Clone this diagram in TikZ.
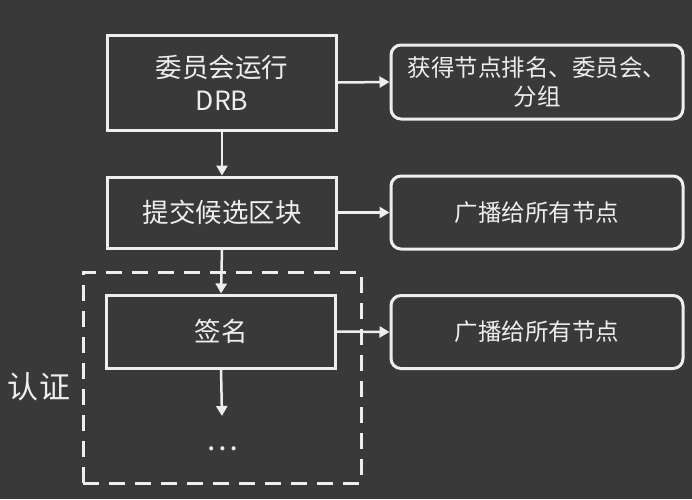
\documentclass[tikz,border=0pt]{standalone}
\usepackage{fontspec}
\setmainfont{Noto Sans CJK SC}
\usetikzlibrary{arrows.meta}
\definecolor{bg}{HTML}{393939}
\definecolor{fg}{HTML}{EEEEEE}
\begin{document}
\begin{tikzpicture}[x=1pt,y=-1pt,
  stepbox/.style={draw=fg, line width=3pt, text=fg, align=center, minimum width=229pt, font=\fontsize{26.5}{33}\selectfont, inner sep=0pt},
  outbox/.style={draw=fg, line width=3pt, rounded corners=10pt, text=fg, align=center, minimum width=292pt, minimum height=73pt, font=\fontsize{23.5}{29}\selectfont, inner sep=0pt},
  conn/.style={draw=fg, line width=2.5pt, -{Triangle[length=10pt,width=11pt]}},
  groupbox/.style={draw=fg, line width=3pt, dash pattern=on 16pt off 10pt, minimum width=278pt, minimum height=211pt, inner sep=0pt}]
\fill[bg] (0,0) rectangle (692,499);
\useasboundingbox (0,0) rectangle (692,499);
\node[groupbox] (grp) at (222,377.5) {};
\node[text=fg, font=\fontsize{31}{33}\selectfont] (auth) at (39,387) {认证};
\node[stepbox, minimum height=95pt] (s1) at (222,82.5) {委员会运行\\DRB};
\node[stepbox, minimum height=71pt] (s2) at (222,212.5) {提交候选区块};
\node[stepbox, minimum height=73pt] (s3) at (221,331.5) {签名};
\node[outbox, minimum height=74pt] (r1) at (537,82) {获得节点排名、委员会、\\分组};
\node[outbox] (r2) at (537,212.5) {广播给所有节点};
\node[outbox] (r3) at (537,332) {广播给所有节点};
\node[text=fg, font=\fontsize{30}{32}\selectfont] (dots) at (222,449) {…};
\coordinate (e3) at (222,416);
\draw[conn] (s1.south) -- (s2.north);
\draw[conn] (s2.south) -- (s3.north);
\draw[conn] (s3.south) -- (e3);
\draw[conn] (s1.east) -- (r1.west);
\draw[conn] (s2.east) -- (r2.west);
\draw[conn] (s3.east) -- (r3.west);
\end{tikzpicture}
\end{document}
